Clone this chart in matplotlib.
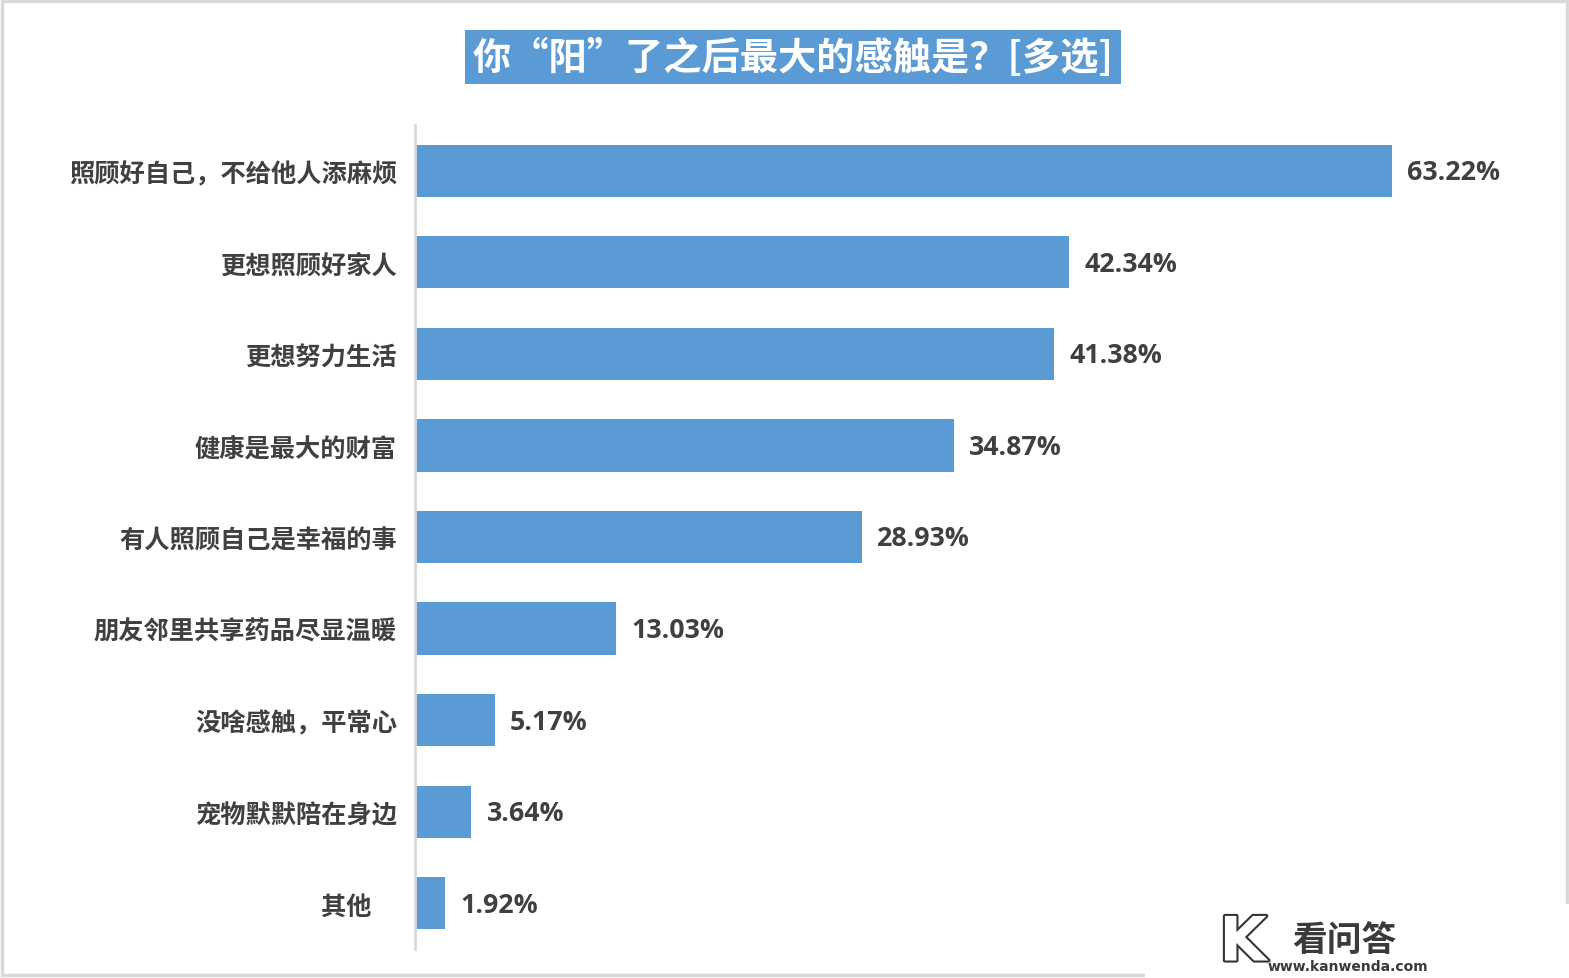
import matplotlib.pyplot as plt
import matplotlib.patheffects as pe
from matplotlib.patches import Rectangle

plt.rcParams['font.family'] = ['Noto Sans CJK SC', 'DejaVu Sans']

categories = ['照顾好自己，不给他人添麻烦', '更想照顾好家人', '更想努力生活', '健康是最大的财富',
              '有人照顾自己是幸福的事', '朋友邻里共享药品尽显温暖', '没啥感触，平常心',
              '宠物默默陪在身边', '其他\u3000']
values = [63.22, 42.34, 41.38, 34.87, 28.93, 13.03, 5.17, 3.64, 1.92]
title = '你“阳”了之后最大的感触是？[多选]'

W, H = 1569, 979
fig = plt.figure(figsize=(W / 100, H / 100), dpi=100)
ax = fig.add_axes([415 / W, (H - 950) / H, (1545 - 415) / W, 824 / H])

blue = '#5B9BD5'
y = list(range(len(categories)))
ax.barh(y, values, height=0.57, color=blue, left=0)
ax.set_ylim(len(categories) - 0.5, -0.5)
ax.set_xlim(0, (1545 - 416) / 15.44)

for yi, v in zip(y, values):
    ax.annotate(f'{v:.2f}%', (v, yi), xytext=(11, -1), textcoords='offset points',
                va='center', ha='left', fontsize=19.3, fontweight='bold',
                color='#404040', family=['Open Sans', 'DejaVu Sans'])

ax.set_yticks(y)
ax.set_yticklabels(categories, fontsize=18.2, fontweight='bold', color='#404040')
ax.tick_params(axis='y', length=0, pad=13)
ax.set_xticks([])
for s in ['top', 'right', 'bottom']:
    ax.spines[s].set_visible(False)
ax.spines['left'].set_color('#D9D9D9')
ax.spines['left'].set_linewidth(2)

# title in a blue box
fig.text(793 / W, 1 - 58 / H, title, ha='center', va='center', fontsize=27.5,
         fontweight='bold', color='white',
         bbox=dict(boxstyle='square,pad=0.2', fc=blue, ec='none'))

# figure border
fig.patches.append(Rectangle((0.001, 0.003), 0.998, 0.995, transform=fig.transFigure,
                             fill=False, ec='#D9D9D9', lw=2.5))
# white patch behind the watermark
fig.patches.append(Rectangle((1145 / W, 0), 1 - 1145 / W, 74 / H, transform=fig.transFigure,
                             fc='white', ec='none'))

# watermark
fig.text(1292 / W, 1 - 940 / H, '看问答', ha='left', va='center', fontsize=25,
         fontweight='bold', color='#3a3a3a')
fig.text(1268 / W, 1 - 967 / H, 'www.kanwenda.com', ha='left', va='center', fontsize=10,
         fontweight='bold', color='#3a3a3a', family=['DejaVu Sans'])
fig.text(1243 / W, 1 - 945 / H, 'K', ha='center', va='center', fontsize=44,
         fontweight='bold', color='white', family=['DejaVu Sans'],
         path_effects=[pe.withStroke(linewidth=3, foreground='#333333')])

plt.savefig('out.png', dpi=100)
